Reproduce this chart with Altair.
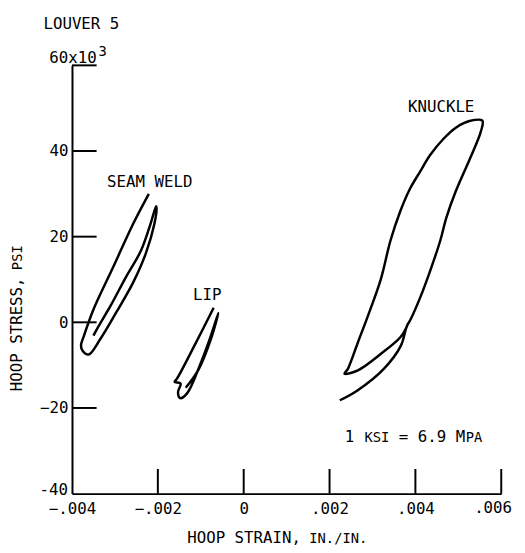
import altair as alt
import pandas as pd

# ---- data ----
seam_strain = [-0.00221, -0.00258, -0.00304, -0.00350, -0.00372, -0.00379, -0.00375, -0.00361,
               -0.00334, -0.00297, -0.00258, -0.00228, -0.00208, -0.00203, -0.00204,
               -0.00217, -0.00239, -0.00274, -0.00311, -0.00338, -0.00350]
seam_stress = [30.0, 22.9, 12.9, 3.0, -3.1, -5.4, -6.7, -7.5,
               -3.9, 2.3, 9.2, 16.1, 23.0, 26.7, 27.1,
               23.0, 16.8, 10.6, 3.7, -0.9, -3.1]

lip_strain = [-0.00070, -0.00113, -0.00155, -0.00161, -0.00147, -0.00153, -0.00148, -0.00132,
              -0.00102, -0.00079, -0.00059, -0.00075, -0.00105, -0.00135]
lip_stress = [3.4, -5.1, -13.1, -13.9, -14.3, -16.3, -17.7, -16.6,
              -10.0, -3.9, 2.2, -3.5, -11.0, -15.3]

knuckle_strain = [0.00224, 0.00265, 0.00327, 0.00366, 0.00380, 0.00389, 0.00412, 0.00435,
                  0.00458, 0.00472, 0.00494, 0.00527, 0.00552, 0.00556, 0.00526, 0.00495,
                  0.00465, 0.00434, 0.00411, 0.00388, 0.00365, 0.00342, 0.00319, 0.00289,
                  0.00266, 0.00243, 0.00235, 0.00266, 0.00319, 0.00365, 0.00381]
knuckle_stress = [-18.2, -15.9, -10.8, -5.5, -0.9, 0.7, 6.0, 12.2,
                  19.1, 24.4, 30.6, 38.2, 44.4, 47.1, 47.0, 45.5,
                  42.8, 39.0, 35.2, 31.3, 26.0, 19.1, 9.9, 1.4,
                  -4.7, -10.8, -12.0, -11.2, -7.4, -3.5, -0.8]

x_ticks = [-0.004, -0.002, 0.0, 0.002, 0.004, 0.006]
y_ticks = [-40, -20, 0, 20, 40]
x_inner_ticks = [-0.002, 0.0, 0.002, 0.004, 0.006]
y_inner_ticks = [-20, 0, 20, 40, 60]

curve_labels = ["SEAM WELD", "LIP", "KNUCKLE"]
label_strain = [-0.00219, -0.00085, 0.00460]
label_stress = [31.5, 5.3, 49.0]

FONT = "DejaVu Sans Mono"
W, H = 436, 435

rows = []
for name, xs, ys in [("seam", seam_strain, seam_stress),
                     ("lip", lip_strain, lip_stress),
                     ("knuckle", knuckle_strain, knuckle_stress)]:
    for i, (a, b) in enumerate(zip(xs, ys)):
        rows.append({"curve": name, "order": i, "strain": a, "stress": b})
df = pd.DataFrame(rows)

xscale = alt.Scale(domain=[-0.004, 0.006], nice=False)
yscale = alt.Scale(domain=[-40, 60], nice=False)

xaxis = alt.Axis(values=x_ticks, ticks=False, grid=False, domainColor="black", domainWidth=2,
                 labelFont=FONT, labelFontSize=16, labelColor="black", labelPadding=7,
                 labelExpr="datum.value > 0.0055 ? '' : (datum.value == 0 ? '0' : replace(format(datum.value, '.3f'), '0.', '.'))",
                 title=None, labelFlush=False)
yaxis = alt.Axis(values=y_ticks, ticks=False, grid=False, domainColor="black", domainWidth=2,
                 labelFont=FONT, labelFontSize=16, labelColor="black", labelPadding=4,
                 labelExpr="datum.value == -40 ? '' : datum.label",
                 title=None, labelFlush=False)

curves = alt.Chart(df).mark_line(color="black", strokeWidth=2.5, interpolate="catmull-rom").encode(
    x=alt.X("strain:Q", scale=xscale, axis=xaxis),
    y=alt.Y("stress:Q", scale=yscale, axis=yaxis),
    detail="curve:N",
    order="order:Q",
)

xt = alt.Chart(pd.DataFrame({"v": x_inner_ticks})).mark_rule(color="black", strokeWidth=2).encode(
    x=alt.X("v:Q", scale=xscale), y=alt.value(H), y2=alt.value(H - 25))
yt = alt.Chart(pd.DataFrame({"v": y_inner_ticks})).mark_rule(color="black", strokeWidth=2).encode(
    y=alt.Y("v:Q", scale=yscale), x=alt.value(0), x2=alt.value(25))

lab = alt.Chart(pd.DataFrame({"t": curve_labels, "s": label_strain, "p": label_stress})).mark_text(
    font=FONT, fontSize=16, color="black", align="center", baseline="alphabetic").encode(
    x=alt.X("s:Q", scale=xscale), y=alt.Y("p:Q", scale=yscale), text="t:N")


def txt(t, x, y, size=16, angle=0, align="left", baseline="alphabetic"):
    return alt.Chart(pd.DataFrame({"t": [t]})).mark_text(
        font=FONT, fontSize=size, color="black", align=align, baseline=baseline, angle=angle
    ).encode(x=alt.value(x), y=alt.value(y), text="t:N")


texts = [
    txt("LOUVER 5", -29, -37),
    txt("60x10", -23, -2),
    txt("3", 27, -10, size=14),
    txt("-40", -4, H + 1, align="right"),
    txt(".006", 447, H + 7, baseline="top", align="right"),
    txt("HOOP STRAIN,", 117, 485),
    txt("IN./IN.", 241, 485, size=14),
    txt("HOOP STRESS,", -51, 331, angle=270),
    txt("PSI", -51, 208, size=14, angle=270),
    txt("1", 277, 383),
    txt("KSI", 297, 383, size=14),
    txt("= 6.9 M", 332, 383),
    txt("PA", 400, 383, size=14),
]

chart = alt.layer(curves, xt, yt, lab, *texts).properties(
    width=W, height=H,
    autosize=alt.AutoSizeParams(type="none"),
    padding={"left": 65, "top": 54, "right": 16, "bottom": 52},
).configure_view(stroke=None)

chart.save("out.html", embed_options={"renderer": "svg", "actions": False})
